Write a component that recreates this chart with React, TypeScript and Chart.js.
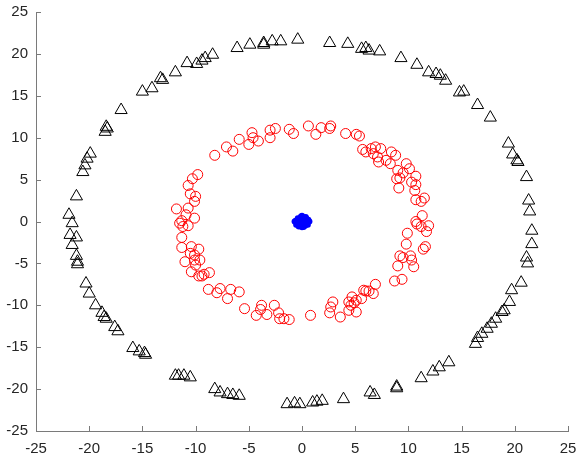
import React, { useEffect, useRef } from "react";
import { Chart, registerables } from "chart.js";

Chart.register(...registerables);

const xTicksMin = -25;
const xTicksMax = 25;
const tickStep = 5;

const triX = [
  -21.9, -21.2, -20.6, -20.4, -20.2, -19.9, -18.5, -18.4, -18.3, -17.0, -15.0, -14.1, -13.3, -13.1, -11.9, -10.8, -9.9, -9.4, -9.1, -8.4, -6.1, -4.9, -3.6, -3.6, -2.8, -2.0, -0.4,
  2.6, 4.3, 5.6, 6.0, 6.3, 7.3, 9.3, 10.8, 11.9, 12.6, 13.0, 13.5, 14.8, 15.2, 16.5, 17.7, 19.4, 19.8, 20.2, 20.3, 21.1, 21.3, 21.4,
  21.6, 21.6, 21.1, 21.2, 20.6, 19.7, 19.5, 19.0, 18.8, 18.2, 17.8, 17.4, 16.9, 16.5, 16.3, 13.8, 12.9, 12.3, 11.2, 8.9, 8.9, 6.8, 6.4, 3.9, 1.9, 1.4, 1.0, -0.2, -0.7,
  -1.4, -5.9, -6.5, -7.0, -7.7, -8.2, -10.5, -11.1, -11.6, -11.9, -14.7, -14.8, -15.3, -15.9, -17.3, -17.6, -18.4, -18.6, -18.8, -19.4, -20.0, -20.3, -21.1, -21.1, -21.2, -21.6, -21.2, -21.8, -21.6,
];
const triY = [
  0.8, 3.0, 5.9, 6.7, 7.5, 8.1, 10.7, 11.3, 11.1, 13.3, 15.5, 15.9, 17.1, 16.9, 17.8, 18.9, 18.8, 19.2, 19.5, 19.9, 20.7, 21.1, 21.1, 21.3, 21.5, 21.5, 21.7,
  21.3, 21.2, 20.6, 20.7, 20.4, 20.3, 19.5, 18.7, 17.8, 17.6, 17.4, 16.8, 15.4, 15.5, 13.9, 12.4, 9.3, 8.0, 7.3, 7.1, 5.3, 2.5, 1.2,
  -1.1, -2.7, -4.3, -5.0, -7.3, -8.2, -9.6, -10.6, -10.8, -11.6, -12.2, -12.8, -13.4, -13.9, -14.6, -16.8, -17.4, -17.9, -18.7, -19.7, -19.9, -20.7, -20.4, -21.2, -21.4, -21.5, -21.6, -21.8, -21.7,
  -21.8, -20.8, -20.7, -20.6, -20.4, -20.0, -18.6, -18.4, -18.4, -18.4, -15.9, -15.7, -15.5, -15.1, -13.1, -12.6, -11.6, -11.4, -10.9, -10.0, -8.6, -7.4, -5.1, -4.8, -4.1, -2.8, -1.9, -1.6, -0.2,
];

const circX = [
  -8.2, -7.1, -6.5, -5.9, -5.0, -4.7, -4.6, -4.1, -3.0, -3.0, -2.5, -1.2, -0.8, -9.8, -10.3, -10.7, -10.5, -10.0, -10.1, -10.7, -11.8, -10.9, -10.1, -11.3,
  -11.5, -11.2, -10.7, -11.3, -11.3, -10.4, -9.7, -10.5, -10.1, -9.6, -10.1, -11.0, -10.0, -10.4, -9.7, -9.4, -9.2, -8.7, -8.8, -8.0, -7.7, -7.0, -6.7, -5.9, -5.4, -4.3, -3.9, -3.8, -3.3, -2.6, -2.2, -2.1, -1.7, -1.2,
  0.8, 3.6, 2.6, 2.7, 2.9, 4.4, 4.6, 4.4, 5.1, 4.9, 4.7, 5.1, 5.6, 5.8, 6.0, 6.3, 6.7, 6.9, 8.7, 9.4, 9.0, 9.2, 9.5, 10.2, 10.3, 10.5, 9.8, 9.9, 11.4, 11.6, 10.8, 11.2, 11.7, 11.9,
  0.6, 1.3, 1.8, 2.6, 2.7, 4.1, 5.1, 5.4, 5.7, 6.0, 6.5, 6.9, 6.7, 7.1, 7.4, 7.2, 7.9, 8.4, 8.8, 8.3, 9.0, 9.8, 10.1, 9.5, 8.9, 9.2, 10.7, 10.3, 10.7, 9.1, 10.6, 11.5, 10.7, 11.2, 11.3, 10.7,
];
const circY = [
  7.9, 8.9, 8.4, 9.8, 9.2, 10.6, 10.0, 9.6, 10.9, 10.0, 11.1, 11.0, 10.5, 5.6, 5.1, 4.3, 3.3, 3.0, 2.4, 1.6, 1.5, 0.8, 0.4, 0.1,
  -0.2, -0.6, -0.5, -1.9, -3.1, -3.0, -3.3, -3.8, -4.0, -4.6, -4.6, -4.8, -5.2, -6.0, -6.5, -6.5, -6.3, -6.1, -8.1, -8.5, -8.0, -9.2, -8.1, -8.4, -10.4, -11.2, -10.5, -10.0, -11.1, -10.0, -10.9, -11.6, -11.6, -11.7,
  -11.2, -11.4, -10.9, -10.2, -9.6, -10.6, -10.0, -9.6, -10.8, -9.7, -9.0, -9.4, -9.2, -8.2, -8.3, -8.3, -8.6, -7.5, -7.1, -6.9, -5.3, -4.1, -4.3, -4.1, -4.6, -5.4, -2.7, -1.4, -3.3, -3.0, -0.3, -0.6, -1.2, -0.5,
  11.4, 10.4, 11.2, 11.1, 11.4, 10.5, 10.4, 10.2, 8.6, 8.3, 8.7, 8.9, 8.1, 7.7, 8.7, 7.1, 7.3, 8.3, 7.9, 6.9, 6.1, 6.9, 6.3, 5.8, 5.1, 5.2, 5.4, 4.7, 4.4, 4.0, 3.7, 2.8, 2.6, 2.4, 0.7, 0.0,
];

const dotX = [0.0, 0.3, -0.3, 0.1, -0.2, 0.5, -0.5, 0.2, -0.1, 0.4, -0.4, 0.6, -0.6, 0.3, -0.3, 0.0, 0.55, -0.55, 0.1, -0.1, 0.2, -0.2, 0.45, -0.45, 0.0, 0.7, -0.7, 0.35, -0.35, 0.15];
const dotY = [0.0, 0.2, 0.1, -0.4, -0.3, -0.1, -0.2, 0.5, 0.6, 0.4, 0.4, 0.2, 0.1, -0.5, -0.6, -0.7, -0.4, -0.4, 0.3, -0.1, -0.2, 0.3, 0.0, -0.05, 0.7, 0.0, 0.0, 0.55, -0.5, -0.65];

const AXIS_COLOR = "#7a7a7a";
const TEXT_COLOR = "#262626";
const FONT_FAMILY = "'Liberation Sans', Arial, Helvetica, sans-serif";

const toPoints = (xs: number[], ys: number[]) => xs.map((x, i) => ({ x, y: ys[i] }));

const inwardTicks = {
  id: "inwardTicks",
  afterDraw(chart: any) {
    const { ctx, chartArea, scales } = chart;
    ctx.save();
    ctx.strokeStyle = AXIS_COLOR;
    ctx.lineWidth = 1;
    const xs = scales.x;
    const ys = scales.y;
    xs.ticks.forEach((t: any) => {
      const px = Math.round(xs.getPixelForValue(t.value)) + 0.5;
      ctx.beginPath();
      ctx.moveTo(px, chartArea.bottom);
      ctx.lineTo(px, chartArea.bottom - 5);
      ctx.stroke();
    });
    ys.ticks.forEach((t: any) => {
      const py = Math.round(ys.getPixelForValue(t.value)) + 0.5;
      ctx.beginPath();
      ctx.moveTo(chartArea.left, py);
      ctx.lineTo(chartArea.left + 5, py);
      ctx.stroke();
    });
    ctx.restore();
  },
};

export default function App() {
  const ref = useRef<HTMLCanvasElement | null>(null);

  useEffect(() => {
    if (!ref.current) return;
    const chart = new Chart(ref.current, {
      type: "scatter",
      data: {
        datasets: [
          {
            data: toPoints(triX, triY),
            pointStyle: "triangle",
            pointRadius: 7,
            pointBorderWidth: 1,
            pointBorderColor: "#000000",
            pointBackgroundColor: "rgba(0,0,0,0)",
            showLine: false,
          },
          {
            data: toPoints(circX, circY),
            pointStyle: "circle",
            pointRadius: 5,
            pointBorderWidth: 1,
            pointBorderColor: "#ff0000",
            pointBackgroundColor: "rgba(0,0,0,0)",
            showLine: false,
          },
          {
            data: toPoints(dotX, dotY),
            pointStyle: "circle",
            pointRadius: 3,
            pointBorderWidth: 0,
            pointBorderColor: "#0000ff",
            pointBackgroundColor: "#0000ff",
            showLine: false,
          },
        ],
      },
      options: {
        responsive: false,
        animation: false,
        layout: { padding: { top: 12, right: 9, left: 0, bottom: 0 } },
        plugins: { legend: { display: false }, tooltip: { enabled: false } },
        scales: {
          x: {
            type: "linear",
            min: xTicksMin,
            max: xTicksMax,
            ticks: {
              stepSize: tickStep,
              color: TEXT_COLOR,
              font: { family: FONT_FAMILY, size: 15 },
              padding: 9,
              maxRotation: 0,
            },
            grid: { drawOnChartArea: false, drawTicks: false },
            border: { display: true, color: AXIS_COLOR, width: 1 },
            afterFit: (s: any) => {
              s.height = 29;
              s.paddingLeft = 0;
              s.paddingRight = 0;
            },
          },
          y: {
            type: "linear",
            min: xTicksMin,
            max: xTicksMax,
            ticks: {
              stepSize: tickStep,
              color: TEXT_COLOR,
              font: { family: FONT_FAMILY, size: 15 },
              padding: 8,
            },
            grid: { drawOnChartArea: false, drawTicks: false },
            border: { display: true, color: AXIS_COLOR, width: 1 },
            afterFit: (s: any) => {
              s.width = 36;
              s.paddingTop = 0;
              s.paddingBottom = 0;
            },
          },
        },
      },
      plugins: [inwardTicks],
    });
    return () => chart.destroy();
  }, []);

  return (
    <div style={{ position: "fixed", left: 0, top: 0, width: 577, height: 460, background: "#ffffff" }}>
      <canvas ref={ref} width={577} height={460} style={{ display: "block" }} />
    </div>
  );
}
